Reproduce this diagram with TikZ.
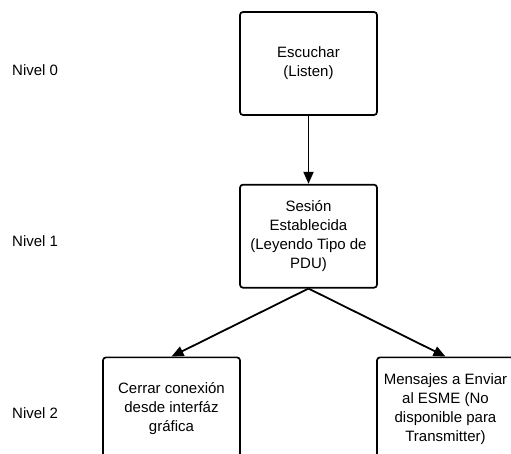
\documentclass[tikz,border=0pt]{standalone}
\usepackage{fontspec}
\setmainfont{Liberation Sans}
\usepackage{tikz}
\usetikzlibrary{arrows.meta,positioning}

\begin{document}
\begin{tikzpicture}[
		x=1pt, y=1pt,
		caja/.style  = {draw, line width=1.7pt, rounded corners=3pt, rectangle, align=center, minimum width=137pt, minimum height=103pt, inner sep=2pt},
		nivel/.style = {anchor=west, inner sep=0pt},
		flecha/.style = {-{Triangle[length=12pt,width=10pt]}, line width=1.8pt},
		every node/.style={font=\fontsize{15}{19}\selectfont},
		]
		\useasboundingbox (0,0) rectangle (511,454);
		
		% Level 0
		\node[caja] (escuchar) at (308.5,390.5) {Escuchar\\(Listen)};
		
		% Level 1, below the root
		\node[caja, below=68pt of escuchar] (sesion) {Sesi\'on\\Establecida\\(Leyendo Tipo de\\PDU)};
		
		% Level 2, relatively positioned nodes
		\node[caja, below=68pt of sesion, xshift=-137pt] (cerrar) {Cerrar conexi\'on\\desde interf\'az\\gr\'afica};
		\node[caja, below=68pt of sesion, xshift=137pt] (mensajes) {Mensajes a Enviar\\al ESME (No\\disponible para\\Transmitter)};
		
		% Level names on the left
		\node[nivel] (n0) at (12,384) {Nivel 0};
		\node[nivel] (n1) at (12,212.5) {Nivel 1};
		\node[nivel] (n2) at (12,41) {Nivel 2};
		
		% Arrows from each node to its children
		\draw[flecha] (escuchar.south) -- (sesion.north);
		\foreach \hijo in {cerrar,mensajes}
		\draw[flecha] (sesion.south) -- (\hijo.north);
		
	\end{tikzpicture}
\end{document}
